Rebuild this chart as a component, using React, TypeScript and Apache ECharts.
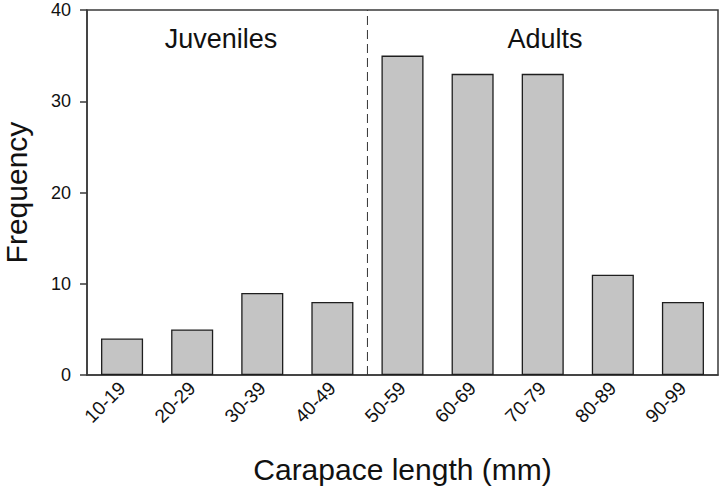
import React, { useEffect, useRef } from "react";
import * as echarts from "echarts";

const categories = ["10-19", "20-29", "30-39", "40-49", "50-59", "60-69", "70-79", "80-89", "90-99"];
const frequency = [4, 5, 9, 8, 35, 33, 33, 11, 8];
const yTicks = { min: 0, max: 40, interval: 10 };
const dividerX = 3.5; // boundary between 40-49 and 50-59 classes
const groupLabels = ["Juveniles", "Adults"];

const FONT = "'Liberation Sans', Arial, Helvetica, sans-serif";

export default function App() {
  const ref = useRef<HTMLDivElement>(null);
  useEffect(() => {
    if (!ref.current) return;
    const chart = echarts.init(ref.current, null, { renderer: "svg" });
    chart.setOption({
      animation: false,
      backgroundColor: "#ffffff",
      grid: {
        left: 87,
        right: 3,
        top: 10,
        bottom: 116,
        containLabel: false,
        outerBoundsMode: "none",
        show: true,
        borderColor: "#3a3a3a",
        borderWidth: 1.5,
        backgroundColor: "transparent",
      },
      xAxis: [
        {
          type: "category",
          data: categories,
          name: "Carapace length (mm)",
          nameLocation: "middle",
          nameGap: 79,
          nameTextStyle: { fontFamily: FONT, fontSize: 30, color: "#111" },
          axisLine: { onZero: false, lineStyle: { color: "#3a3a3a", width: 1.5 } },
          axisTick: { alignWithLabel: true, length: 7, lineStyle: { color: "#3a3a3a", width: 1.5 } },
          axisLabel: { rotate: 45, margin: 10, fontFamily: FONT, fontSize: 19, color: "#111", hideOverlap: false },
        },
        {
          type: "value",
          min: -0.5,
          max: 8.5,
          show: false,
          position: "top",
        },
      ],
      yAxis: {
        type: "value",
        min: yTicks.min,
        max: yTicks.max,
        interval: yTicks.interval,
        name: "Frequency",
        nameLocation: "middle",
        nameGap: 57,
        nameTextStyle: { fontFamily: FONT, fontSize: 30, lineHeight: 28, color: "#111" },
        axisLine: { show: true, onZero: false, lineStyle: { color: "#3a3a3a", width: 1.5 } },
        axisTick: { show: true, length: 7, lineStyle: { color: "#3a3a3a", width: 1.5 } },
        axisLabel: { margin: 16, fontFamily: FONT, fontSize: 18, color: "#111" },
        splitLine: { show: false },
      },
      series: [
        {
          type: "bar",
          data: frequency,
          barWidth: "60%",
          itemStyle: { color: "#c4c4c4", borderColor: "#1e1e1e", borderWidth: 1.3 },
        },
        {
          type: "line",
          xAxisIndex: 1,
          data: [
            [dividerX, yTicks.min],
            [dividerX, yTicks.max],
          ],
          symbol: "none",
          lineStyle: { color: "#333", width: 1, type: [9, 5] },
          silent: true,
        },
      ],
      graphic: [
        {
          type: "text",
          x: 221,
          y: 39,
          style: {
            text: groupLabels[0],
            fontFamily: FONT,
            fontSize: 27,
            fill: "#111",
            align: "center",
            verticalAlign: "middle",
          },
        },
        {
          type: "text",
          x: 545,
          y: 39,
          style: {
            text: groupLabels[1],
            fontFamily: FONT,
            fontSize: 27,
            fill: "#111",
            align: "center",
            verticalAlign: "middle",
          },
        },
      ],
    });
    return () => chart.dispose();
  }, []);
  return <div ref={ref} style={{ width: 721, height: 491, position: "absolute", left: 0, top: 0 }} />;
}
